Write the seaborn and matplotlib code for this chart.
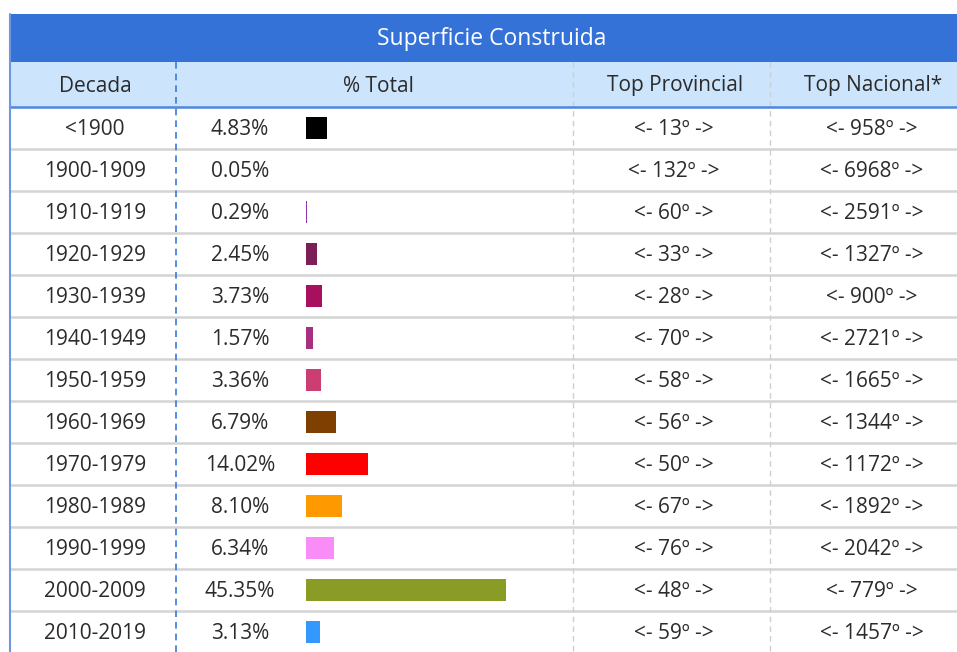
import matplotlib
matplotlib.use("Agg")
import matplotlib.pyplot as plt
import seaborn as sns
import pandas as pd
from matplotlib.patches import Rectangle

# ---- data ----
title = "Superficie Construida"
headers = ["Decada", "% Total", "Top Provincial", "Top Nacional*"]
decades = ["<1900", "1900-1909", "1910-1919", "1920-1929", "1930-1939", "1940-1949",
           "1950-1959", "1960-1969", "1970-1979", "1980-1989", "1990-1999",
           "2000-2009", "2010-2019"]
pct = [4.83, 0.05, 0.29, 2.45, 3.73, 1.57, 3.36, 6.79, 14.02, 8.10, 6.34, 45.35, 3.13]
top_prov = [13, 132, 60, 33, 28, 70, 58, 56, 50, 67, 76, 48, 59]
top_nac = [958, 6968, 2591, 1327, 900, 2721, 1665, 1344, 1172, 1892, 2042, 779, 1457]
bar_colors = ["#000000", "#7a5c99", "#8e35b0", "#7d1f57", "#a80f5e", "#a83080",
              "#cc3d73", "#7f3f00", "#ff0000", "#ff9900", "#f98cf6", "#8a9c25",
              "#3399ff"]

sns.set_theme(style="white")
plt.rcParams['font.family'] = ['Open Sans', 'DejaVu Sans']

W, H = 957, 652
fig = plt.figure(figsize=(W / 100, H / 100), dpi=100)
ax = fig.add_axes([0, 0, 1, 1])
ax.set_xlim(0, W)
ax.set_ylim(H, 0)
ax.axis("off")

left, right = 10, 960
title_top, head_top, body_top = 14, 62, 107
row_h = 42
txt_col = "#2b2b2b"
fs = 15
dy = 1.5

# title band
ax.add_patch(Rectangle((left, title_top), right - left, head_top - title_top,
                       facecolor="#3572d7", edgecolor="none", zorder=1))
ax.text(492, (title_top + head_top) / 2 + 1, title, color="white",
        ha="center", va="center", fontsize=16.5, zorder=5)
# header band
ax.add_patch(Rectangle((left, head_top), right - left, body_top - head_top,
                       facecolor="#cce5fd", edgecolor="none", zorder=1))
hcent = [95, 378, 675, 873]
for c, h in zip(hcent, headers):
    ax.text(c, (head_top + body_top) / 2 + dy, h, color=txt_col, ha="center",
            va="center", fontsize=fs, zorder=5)
ax.plot([left, right], [body_top, body_top], color="#4f86df", lw=1.8, zorder=4)

# row lines and texts
n = len(decades)
for i in range(n):
    yc = body_top + row_h * i + row_h / 2 + dy
    ax.text(95, yc, decades[i], color=txt_col, ha="center", va="center",
            fontsize=fs, zorder=5)
    ax.text(240, yc, f"{pct[i]:.2f}%", color=txt_col, ha="center", va="center",
            fontsize=fs, zorder=5)
    ax.text(674, yc, f"<- {top_prov[i]}º ->", color=txt_col, ha="center",
            va="center", fontsize=fs, zorder=5)
    ax.text(872, yc, f"<- {top_nac[i]}º ->", color=txt_col, ha="center",
            va="center", fontsize=fs, zorder=5)
    yl = body_top + row_h * (i + 1)
    ax.plot([left, right], [yl, yl], color="#d4d4d4", lw=1.8, zorder=2)

# vertical separators
ax.plot([left, left], [title_top, H], color="#6f97e0", lw=1.5, zorder=4)
ax.plot([176, 176], [head_top, H], color="#3a78d8", lw=1.2, ls=(0, (4, 3)), zorder=4)
for xv in [573, 770]:
    ax.plot([xv, xv], [head_top, H], color="#cfcfcf", lw=1.0, ls=(0, (4, 3)), zorder=3)

# bar axes (% Total column)
bx0, bx1 = 306, 573
px_per_pct = 4.4
bottom = body_top + row_h * n
bax = fig.add_axes([bx0 / W, 1 - bottom / H, (bx1 - bx0) / W, (row_h * n) / H])
df = pd.DataFrame({"decada": decades, "pct": pct})
sns.barplot(data=df, x="pct", y="decada", hue="decada", palette=bar_colors,
            legend=False, orient="h", width=0.52, ax=bax, saturation=1,
            linewidth=0)
bax.set_xlim(0, (bx1 - bx0) / px_per_pct)
bax.set_ylim(n - 0.5, -0.5)
bax.axis("off")
bax.patch.set_alpha(0)

fig.savefig("out.png", dpi=100)
